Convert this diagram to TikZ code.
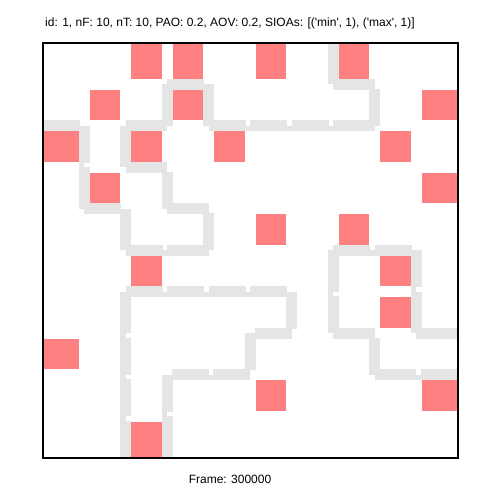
\documentclass[tikz,border=0pt]{standalone}
\usepackage{fontspec}
\setmainfont{Liberation Sans}
\usetikzlibrary{calc}
\definecolor{agentred}{RGB}{255,128,128}
\definecolor{wallgrey}{RGB}{229,229,229}
\newcommand{\ox}{43}
\newcommand{\cellsz}{41.47}
\newcommand{\sq}{\textquotesingle}
\tikzset{
  cellbox/.style={fill=agentred, draw=none},
  wallbar/.style={draw=wallgrey, line width=11bp, line cap=butt},
  wallhalf/.style={wallbar, line width=5.5bp},
  framebox/.style={draw=black, line width=2bp},
  caption/.style={font=\fontsize{12bp}{14bp}\selectfont, inner sep=0pt},
}
% one wall piece from grid point (#1,#2) to grid point (#3,#4)
\newcommand{\wallseg}[4]{%
  \pgfmathsetmacro\sx{#4==#2 ? 0 : -2.75}%
  \pgfmathsetmacro\sy{#4==#2 ? 2.75 : 0}%
  \coordinate (wa) at ({\ox+#1*\cellsz},{\ox+#2*\cellsz});
  \coordinate (wb) at ({\ox+#3*\cellsz},{\ox+#4*\cellsz});
  \draw[wallbar] (wa) -- ($(wb)!4.5bp!(wa)$);
  \draw[wallhalf] ($(wb)!4.5bp!(wa)+(\sx,\sy)$) -- ($(wb)+(\sx,\sy)$);
}

\begin{document}
\begin{tikzpicture}[x=1bp, y=-1bp]
\useasboundingbox (0,0) rectangle (502,502);
\fill[white] (0,0) rectangle (502,502);

% walls between cells
\begin{scope}
\clip (\ox,\ox) rectangle ({\ox+10*\cellsz},{\ox+10*\cellsz});
\foreach \i/\j [remember=\i as \ilast (initially 0), remember=\j as \jlast (initially 2)] in
  {1/2,1/3,1/4,2/4,2/5,3/5,4/5,4/4,3/4,3/3,2/3,2/2,3/2,3/1,4/1,4/2,5/2,6/2,7/2,8/2,8/1,7/1,7/-0.5}
  {\wallseg{\ilast}{\jlast}{\i}{\j}}
\foreach \i/\j [remember=\i as \ilast (initially 2), remember=\j as \jlast (initially 10.5)] in
  {2/9,2/8,2/7,2/6,3/6,4/6,5/6,6/6,6/7,5/7,5/8,4/8,3/8,3/9,3/10.5}
  {\wallseg{\ilast}{\jlast}{\i}{\j}}
\foreach \i/\j [remember=\i as \ilast (initially 10.5), remember=\j as \jlast (initially 8)] in
  {9/8,8/8,8/7,7/7,7/6,7/5,8/5,9/5,9/6,9/7,10.5/7}
  {\wallseg{\ilast}{\jlast}{\i}{\j}}
\end{scope}

% occupied cells (row/col)
\foreach \r/\c in {0/2,0/3,0/5,0/7,1/1,1/3,1/9,2/0,2/2,2/4,2/8,3/1,3/9,4/5,4/7,5/2,5/8,6/8,7/0,8/5,8/9,9/2} {
  \pgfmathsetmacro\xa{\c==0 ? \ox : \ox+\c*\cellsz+5.5}
  \pgfmathsetmacro\xb{\c==9 ? \ox+10*\cellsz : \ox+(\c+1)*\cellsz-5.5}
  \pgfmathsetmacro\ya{\r==0 ? \ox : \ox+\r*\cellsz+5.5}
  \pgfmathsetmacro\yb{\r==9 ? \ox+10*\cellsz : \ox+(\r+1)*\cellsz-5.5}
  \fill[cellbox] (\xa,\ya) rectangle (\xb,\yb);
}

\draw[framebox] (\ox,\ox) rectangle ({\ox+10*\cellsz},{\ox+10*\cellsz});

\node[caption, anchor=base west] (title) at (45,26.7) {id: 1, nF: 10, nT: 10, PAO: 0.2, AOV: 0.2, SIOAs: [(\sq min\sq, 1), (\sq max\sq, 1)]};
\node[caption, anchor=base] (frame) at (230,483) {Frame: 300000};
\end{tikzpicture}
\end{document}
